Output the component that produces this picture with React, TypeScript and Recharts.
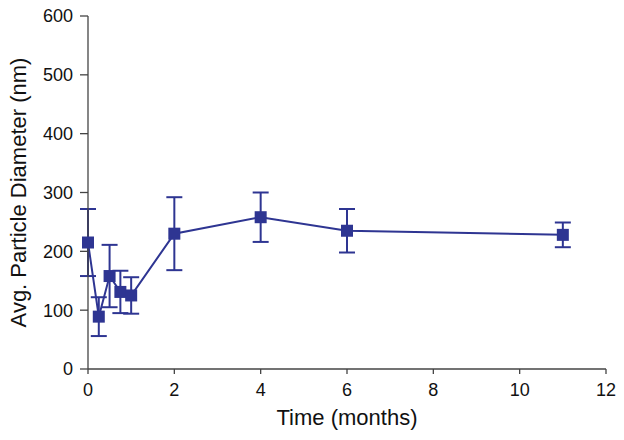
import React from 'react';
import { LineChart, Line, XAxis, YAxis, ErrorBar } from 'recharts';

const months = [0, 0.25, 0.5, 0.75, 1, 2, 4, 6, 11];
const diameters = [215, 89, 158, 131, 125, 230, 258, 235, 228];
const errors = [57, 33, 53, 36, 31, 62, 42, 37, 21];
const xTicks = [0, 2, 4, 6, 8, 10, 12];
const yTicks = [0, 100, 200, 300, 400, 500, 600];

const data = months.map((m, i) => ({ t: m, d: diameters[i], e: errors[i] }));

const COLOR = '#2e3592';
const FONT = 'Liberation Sans, Arial, sans-serif';

const SquareDot = (props: any) => {
  const { cx, cy } = props;
  if (cx == null || cy == null) return null;
  const s = 12;
  return <rect x={cx - s / 2} y={cy - s / 2} width={s} height={s} fill={COLOR} />;
};

const YLabel = (props: any) => {
  const vb = props.viewBox || {};
  const x = 25.5;
  const y = vb.y + vb.height / 2;
  return (
    <text x={x} y={y} transform={`rotate(-90, ${x}, ${y})`} textAnchor="middle"
      fontSize={22} fontFamily={FONT} fill="#111">
      Avg. Particle Diameter (nm)
    </text>
  );
};

const XLabel = (props: any) => {
  const vb = props.viewBox || {};
  const x = vb.x + vb.width / 2;
  return (
    <text x={x} y={425} textAnchor="middle" fontSize={22} fontFamily={FONT} fill="#111">
      Time (months)
    </text>
  );
};

export default function App() {
  return (
    <div style={{ position: 'absolute', left: 0, top: 0, background: '#fff' }}>
      <LineChart width={624} height={440} data={data} margin={{ top: 16, right: 18, left: 0, bottom: 11 }}>
        <XAxis dataKey="t" type="number" domain={[0, 12]} ticks={xTicks} height={60}
          stroke="#444" strokeWidth={1.3} tickSize={5} tickMargin={9}
          tick={{ fontSize: 18, fontFamily: FONT, fill: '#111' }}
          label={<XLabel />} />
        <YAxis type="number" domain={[0, 600]} ticks={yTicks} width={88}
          stroke="#444" strokeWidth={1.3} tickSize={8} tickMargin={7}
          tick={{ fontSize: 18, fontFamily: FONT, fill: '#111' }}
          label={<YLabel />} />
        <Line dataKey="d" stroke={COLOR} strokeWidth={2} dot={<SquareDot />} activeDot={false}
          isAnimationActive={false}>
          <ErrorBar dataKey="e" width={8} stroke={COLOR} strokeWidth={2} direction="y" />
        </Line>
      </LineChart>
    </div>
  );
}
